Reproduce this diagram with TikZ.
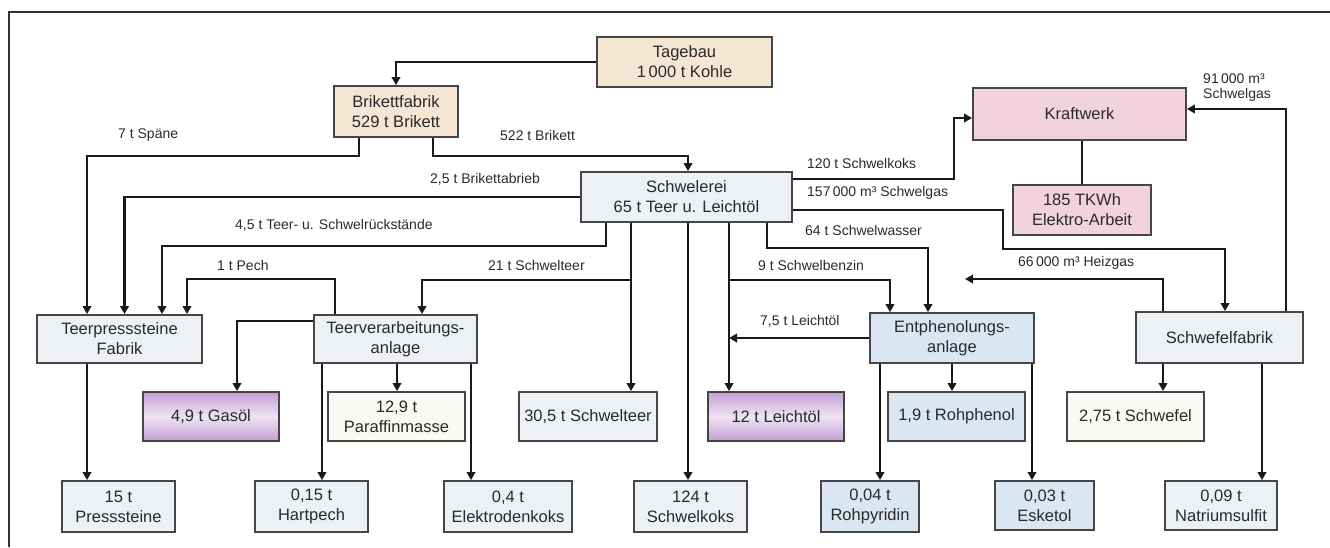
\documentclass[tikz,border=0pt]{standalone}
\usepackage{fontspec}
\setmainfont{Liberation Sans}
\usetikzlibrary{arrows.meta,calc}
\definecolor{beige}{HTML}{F4E6D2}
\definecolor{pinkc}{HTML}{F2D3DC}
\definecolor{grayc}{HTML}{EDF1F5}
\definecolor{bluec}{HTML}{DAE6F2}
\definecolor{purpc}{HTML}{C2A0D3}
\definecolor{purpl}{HTML}{EFE3F4}
\definecolor{whitec}{HTML}{FAFAF5}
\definecolor{bordc}{HTML}{464646}
\definecolor{txtc}{HTML}{2A2A2A}
\begin{document}
\begin{tikzpicture}[x=1pt,y=-1pt,
  box/.style={draw=bordc, line width=1.8pt, inner sep=0pt, align=center,
    font=\fontsize{16.5}{20}\selectfont, text=txtc, minimum height=50pt},
  gbox/.style={box, fill=grayc},
  bbox/.style={box, fill=bluec},
  pbox/.style={box, top color=purpc, bottom color=purpc, middle color=purpl},
  lab/.style={font=\fontsize{14}{16}\selectfont, text=txtc, inner sep=0pt, anchor=west, align=left},
  conn/.style={line width=2.7pt, draw=black!90},
  arr/.style={conn, -{Triangle[length=8pt,width=8.5pt]}},
  frame/.style={line width=1.5pt, draw=black!80}]
\useasboundingbox (0,0) rectangle (1330,547);
\draw[frame] (1330,12) -- (9,12) -- (9,547);

% nodes
\node[box, fill=beige, minimum width=175pt] (tage) at (684.5,62) {Tagebau\\1\,000 t Kohle};
\node[box, fill=beige, minimum width=124pt, minimum height=51pt] (brik) at (396,111.5) {Brikettfabrik\\529 t Brikett};
\node[gbox, minimum width=211pt] (schw) at (686.5,197) {Schwelerei\\65 t Teer u. Leichtöl};
\node[box, fill=pinkc, minimum width=213pt, minimum height=52pt] (kraft) at (1079.5,114) {Kraftwerk};
\node[box, fill=pinkc, minimum width=138pt] (elek) at (1082,210) {185 TKWh\\Elektro-Arbeit};
\node[gbox, minimum width=165pt, minimum height=48pt] (teerp) at (119.5,339) {Teerpresssteine\\Fabrik};
\node[gbox, minimum width=163pt, minimum height=48pt] (teerv) at (395.5,339) {Teerverarbeitungs-\\anlage};
\node[bbox, minimum width=164pt] (entph) at (952,338) {Entphenolungs-\\anlage};
\node[gbox, minimum width=167pt, minimum height=51pt] (schwef) at (1219.5,337.5) {Schwefelfabrik};

\node[pbox, minimum width=136pt, minimum height=49pt] (gasoel) at (211,416.5) {4,9 t Gasöl};
\node[box, fill=whitec, minimum width=137pt, minimum height=49pt] (paraf) at (396.5,416.5) {12,9 t\\Paraffinmasse};
\node[gbox, minimum width=138pt, minimum height=49pt] (schwt) at (588,416.5) {30,5 t Schwelteer};
\node[pbox, minimum width=136pt, minimum height=49pt] (leicht) at (776,416.5) {12 t Leichtöl};
\node[bbox, minimum width=137pt, minimum height=49pt] (rohphen) at (956.5,416.5) {1,9 t Rohphenol};
\node[box, fill=whitec, minimum width=137pt, minimum height=49pt] (schwefel) at (1135.5,416.5) {2,75 t Schwefel};

\node[gbox, minimum width=113pt, minimum height=51pt] (press) at (118.5,506.5) {15 t\\Presssteine};
\node[gbox, minimum width=113pt, minimum height=51pt] (hart) at (311.5,506.5) {0,15 t\\Hartpech};
\node[gbox, minimum width=128pt, minimum height=51pt] (elektrod) at (508,506.5) {0,4 t\\Elektrodenkoks};
\node[gbox, minimum width=113pt, minimum height=51pt] (schwk) at (690.5,506.5) {124 t\\Schwelkoks};
\node[bbox, minimum width=98pt, minimum height=51pt] (rohpyr) at (870,506.5) {0,04 t\\Rohpyridin};
\node[bbox, minimum width=99pt, minimum height=49pt] (esk) at (1044.5,505.5) {0,03 t\\Esketol};
\node[gbox, minimum width=112pt, minimum height=49pt] (natr) at (1221,505.5) {0,09 t\\Natriumsulfit};

\coordinate (heiz) at (965,279);
\coordinate (lv) at ([xshift=42.5pt]schw.south);

% labels
\node[lab] (l1) at (118,135) {7 t Späne};
\node[lab] (l2) at (500,135) {522 t Brikett};
\node[lab] (l3) at (430,179) {2,5 t Brikettabrieb};
\node[lab] (l4) at (235,225) {4,5 t Teer- u. Schwelrückstände};
\node[lab] (l5) at (217,265) {1 t Pech};
\node[lab] (l6) at (488,265) {21 t Schwelteer};
\node[lab] (l7) at (758,265) {9 t Schwelbenzin};
\node[lab] (l8) at (760,321) {7,5 t Leichtöl};
\node[lab] (l9) at (807,163) {120 t Schwelkoks};
\node[lab] (l10) at (807,193) {157\,000 m³ Schwelgas};
\node[lab] (l11) at (805,230) {64 t Schwelwasser};
\node[lab] (l12) at (1018,263) {66\,000 m³ Heizgas};
\node[lab, font=\fontsize{14}{15}\selectfont] (l13) at (1203,88) {91\,000 m³\\Schwelgas};

% connectors
\draw[arr] (tage.west) -| (brik.north);
\draw[arr] ([xshift=-37pt]brik.south) -- ++(0,18) -| ([xshift=-32.5pt]teerp.north);
\draw[arr] ([xshift=37pt]brik.south) -- ++(0,18) -| ([xshift=1.5pt]schw.north);
\draw[arr] (schw.west) -| ([xshift=5pt]teerp.north);
\draw[arr] ([xshift=-80.5pt]schw.south) -- ++(0,23) -| ([xshift=42.5pt]teerp.north);
\draw[arr] ([xshift=-60.5pt]teerv.north) -- ++(0,-35) -| ([xshift=67.5pt]teerp.north);
\draw[arr] ([xshift=-55.5pt]schw.south) -- ([xshift=43pt]schwt.north);
\draw[arr] ([xshift=-55.5pt]schw.south) -- ++(0,57) -| ([xshift=26.5pt]teerv.north);
\draw[arr] ([xshift=1.5pt]schw.south) -- ([xshift=-2.5pt]schwk.north);
\draw[arr] (lv) -- ([xshift=-47pt]leicht.north);
\draw[arr] (lv) -- ++(0,57) -| ([xshift=-62pt]entph.north);
\draw[arr] ([xshift=80.5pt]schw.south) -- ++(0,25) -| ([xshift=-24pt]entph.north);
\draw[arr] (entph.west) -- (lv |- entph.west);
\draw[arr] ([yshift=18pt]schw.east) -- ++(161,0) |- ([yshift=-4pt]kraft.west);
\draw[arr] ([yshift=-13pt]schw.east) -- ++(210,0) -- ++(0,39) -| ([xshift=5.5pt]schwef.north);
\draw[conn] (elek.north) -- (elek.north |- kraft.south);
\draw[arr] ([xshift=66.5pt]schwef.north) |- ([yshift=5pt]kraft.east);
\draw[arr] ([xshift=-56.5pt]schwef.north) |- (heiz);

\draw[arr] ([xshift=-32.5pt]teerp.south) -- ([xshift=-31.5pt]press.north);
\draw[arr] ([yshift=18pt]teerv.west) -| ([xshift=26pt]gasoel.north);
\draw[arr] ([xshift=-73.5pt]teerv.south) -- ([xshift=10.5pt]hart.north);
\draw[arr] ([xshift=1.5pt]teerv.south) -- ([xshift=0.5pt]paraf.north);
\draw[arr] ([xshift=75.5pt]teerv.south) -- ([xshift=-37pt]elektrod.north);
\draw[arr] ([xshift=-72pt]entph.south) -- ([xshift=10pt]rohpyr.north);
\draw[arr] (entph.south) -- ([xshift=-4.5pt]rohphen.north);
\draw[arr] ([xshift=80pt]entph.south) -- ([xshift=-12.5pt]esk.north);
\draw[arr] ([xshift=-56.5pt]schwef.south) -- ([xshift=27.5pt]schwefel.north);
\draw[arr] ([xshift=42.5pt]schwef.south) -- ([xshift=41pt]natr.north);
\end{tikzpicture}
\end{document}
